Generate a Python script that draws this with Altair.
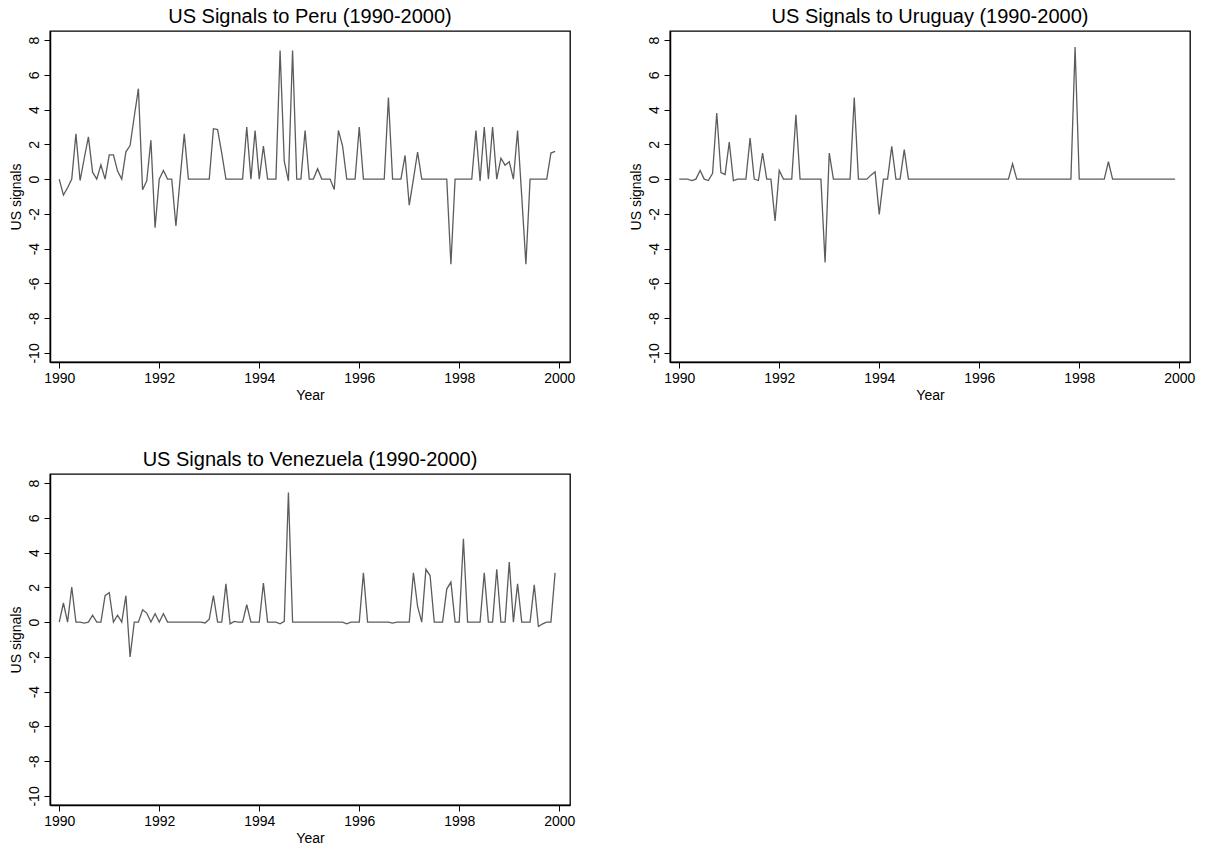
import altair as alt
import pandas as pd

# Monthly US signals, Jan 1990 .. Dec 1999 (120 months)
peru = [0, -0.92, -0.5, 0, 2.6, -0.08, 1.2, 2.43, 0.4, 0,
        0.82, 0, 1.4, 1.4, 0.46, 0, 1.57, 1.93, 3.6, 5.2,
        -0.61, -0.1, 2.24, -2.8, 0, 0.5, 0, 0, -2.7, 0,
        2.6, 0, 0, 0, 0, 0, 0, 2.9, 2.85, 1.5,
        0, 0, 0, 0, 0, 3.0, 0, 2.8, 0, 1.9,
        0, 0, 0, 7.4, 1.03, -0.1, 7.4, 0, 0, 2.8,
        0, 0, 0.6, 0, 0, 0, -0.6, 2.8, 1.9, 0,
        0, 0, 3.0, 0, 0, 0, 0, 0, 0, 4.7,
        0, 0, 0, 1.36, -1.5, 0, 1.55, 0, 0, 0,
        0, 0, 0, 0, -4.9, 0, 0, 0, 0, 0,
        2.8, -0.1, 3.0, 0, 3.0, 0, 1.2, 0.8, 1.0, 0,
        2.8, -1.0, -4.9, 0, 0, 0, 0, 0, 1.5, 1.6]

uruguay = [0, 0, 0, -0.08, 0, 0.5, 0, -0.08, 0.33, 3.8,
           0.38, 0.27, 2.13, -0.08, 0, 0, 0, 2.36, 0, -0.08,
           1.5, 0, 0, -2.4, 0.5, 0, 0, 0, 3.7, 0,
           0, 0, 0, 0, 0, -4.8, 1.5, 0, 0, 0,
           0, 0, 4.7, 0, 0, 0, 0.23, 0.42, -2.03, 0,
           0, 1.88, 0, 0, 1.7, 0, 0, 0, 0, 0,
           0, 0, 0, 0, 0, 0, 0, 0, 0, 0,
           0, 0, 0, 0, 0, 0, 0, 0, 0, 0,
           0.88, 0, 0, 0, 0, 0, 0, 0, 0, 0,
           0, 0, 0, 0, 0, 7.6, 0, 0, 0, 0,
           0, 0, 0, 1.0, 0, 0, 0, 0, 0, 0,
           0, 0, 0, 0, 0, 0, 0, 0, 0, 0]

venezuela = [0, 1.1, 0, 2.02, 0, 0, -0.06, 0, 0.4, 0,
             0, 1.52, 1.7, 0, 0.4, 0, 1.52, -2.0, 0, 0,
             0.71, 0.52, 0, 0.48, 0, 0.48, 0, 0, 0, 0,
             0, 0, 0, 0, 0, -0.05, 0.17, 1.52, 0, 0,
             2.2, -0.1, 0.04, 0, 0, 1.0, 0, 0, 0, 2.25,
             0, 0, 0, -0.1, 0.04, 7.45, 0, 0, 0, 0,
             0, 0, 0, 0, 0, 0, 0, 0, 0, -0.1,
             0, 0, 0, 2.83, 0, 0, 0, 0, 0, 0,
             -0.06, 0, 0, 0, 0, 2.83, 0.9, 0, 3.04, 2.68,
             0, 0, 0, 1.9, 2.3, 0, 0, 4.8, 0, 0,
             0, 0, 2.83, 0, 0, 3.04, 0, 0, 3.45, 0,
             2.2, 0, 0, 0, 2.14, -0.25, -0.1, 0, 0, 2.83]

years = [1990 + i / 12 for i in range(120)]
x_ticks = [1990, 1992, 1994, 1996, 1998, 2000]
y_ticks = [-10, -8, -6, -4, -2, 0, 2, 4, 6, 8]

FONT = "Liberation Sans"
W, H = 520, 331


def panel(name, values):
    df = pd.DataFrame({"Year": years, "US signals": values})
    return (
        alt.Chart(df, title=alt.TitleParams(f"US Signals to {name} (1990-2000)"))
        .mark_line(color="#5c5c5c", strokeWidth=1.3)
        .encode(
            x=alt.X("Year:Q",
                    scale=alt.Scale(domain=[1989.815, 2000.215], nice=False, zero=False),
                    axis=alt.Axis(values=x_ticks, labelExpr="toString(datum.value)",
                                  title="Year")),
            y=alt.Y("US signals:Q",
                    scale=alt.Scale(domain=[-10.52, 8.52], nice=False, zero=False),
                    axis=alt.Axis(values=y_ticks, labelExpr="toString(datum.value)",
                                  title="US signals",
                                  labelAngle=-90, labelAlign="center",
                                  labelBaseline="bottom")),
        )
        .properties(width=W, height=H)
    )


chart = (
    alt.concat(panel("Peru", peru), panel("Uruguay", uruguay),
               panel("Venezuela", venezuela),
               columns=2, spacing={"row": 112, "column": 100}, bounds="flush")
    .properties(padding={"left": 8, "top": 6, "right": 5, "bottom": 5})
    .configure_view(stroke="#000000", strokeWidth=1.3)
    .configure_axis(
        grid=False, domainColor="#000000", domainWidth=1.5,
        tickColor="#000000", tickSize=6, tickWidth=1,
        labelFont=FONT, labelFontSize=14, labelColor="#000000", labelPadding=3,
        titleFont=FONT, titleFontSize=14, titleFontWeight="normal",
        titleColor="#000000",
    )
    .configure_axisX(titlePadding=3)
    .configure_axisY(titlePadding=4)
    .configure_title(font=FONT, fontSize=20, fontWeight="normal",
                     color="#000000", anchor="middle", offset=4)
)

chart.save("out.html", embed_options={"renderer": "svg", "actions": False})
